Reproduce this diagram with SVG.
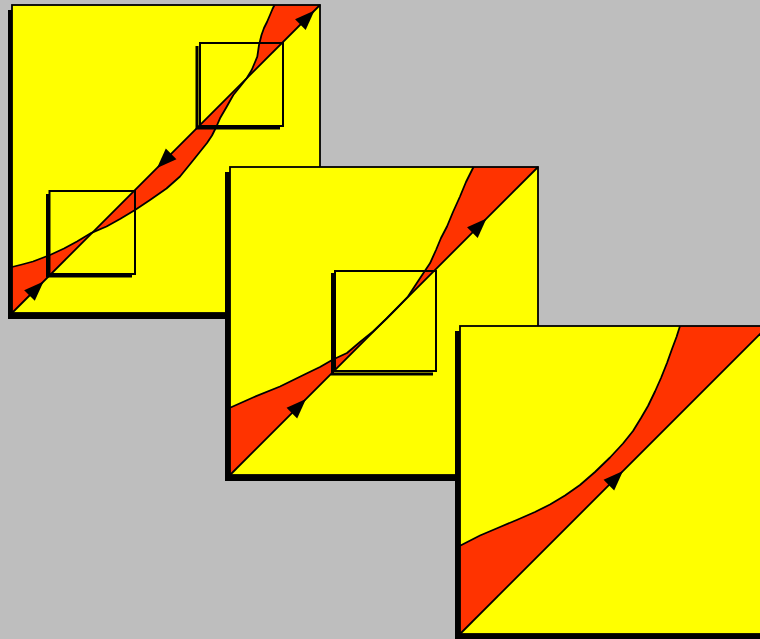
<svg xmlns="http://www.w3.org/2000/svg" width="760" height="639" viewBox="0 0 760 639">
<defs>
<style>
.bg{fill:#bebebe}
.shadow{fill:#000}
.sq{fill:#ffff00}
.frame{fill:none;stroke:#000;stroke-width:1.8}
.band{fill:#ff3300;stroke:none}
.diag{fill:none;stroke:#000;stroke-width:1.8}
.curve{fill:none;stroke:#000;stroke-width:1.8;stroke-linejoin:round}
.box{fill:none;stroke:#000;stroke-width:2}
.boxsh{fill:none;stroke:#000;stroke-width:3}
.arrow{fill:#000}
</style>
<polygon id="ah" points="0,0 -20,-7.5 -20,7.5"/>
</defs>
<rect class="bg" x="0" y="0" width="760" height="639"/>

<g id="panel1">
<rect class="shadow" x="8" y="10" width="308" height="309"/>
<rect class="sq" x="12" y="5" width="308" height="308"/>
<polygon class="band" points="12,267 22,264.5 33,261.5 50,255 64,248.5 77,241.5 91.5,232.8 106.5,226.5 120,219 135,210 150,200 166.5,188.5 180,176.5 193,160.5 207,143 212,135.5 216.7,126 220,118.3 226.7,106.7 233.3,95 240,86.7 246.7,78.3 251.7,70 257.3,56.7 259,45 261.5,35 264,28 267,22 270,15 272.5,9 274.5,5 320,5 12,313"/>
<line class="diag" x1="12" y1="313" x2="320" y2="5"/>
<polyline class="curve" points="12,267 22,264.5 33,261.5 50,255 64,248.5 77,241.5 91.5,232.8 106.5,226.5 120,219 135,210 150,200 166.5,188.5 180,176.5 193,160.5 207,143 212,135.5 216.7,126 220,118.3 226.7,106.7 233.3,95 240,86.7 246.7,78.3 251.7,70 257.3,56.7 259,45 261.5,35 264,28 267,22 270,15 272.5,9 274.5,5"/>
<path class="boxsh" d="M197,46 V128 H280"/>
<rect class="box" x="200" y="43" width="83" height="83"/>
<path class="boxsh" d="M47.5,194 V276 H132"/>
<rect class="box" x="49.5" y="191" width="85.5" height="83"/>
<use href="#ah" class="arrow" transform="translate(43.6,281.4) rotate(-45)"/>
<use href="#ah" class="arrow" transform="translate(157,168) rotate(135)"/>
<use href="#ah" class="arrow" transform="translate(314.5,10.5) rotate(-45)"/>
<rect class="frame" x="12" y="5" width="308" height="308"/>
</g>

<g id="panel2">
<rect class="shadow" x="225" y="172" width="308" height="309"/>
<rect class="sq" x="230" y="167" width="308" height="308"/>
<polygon class="band" points="230,407.7 253,397.5 280,386.5 306.5,373.5 320,367 333,359.5 347,353 360,342 373,331.5 386.7,318.5 398,307 408,296.5 416.7,283.3 423.3,273.3 430,263.3 436,250 441,238 447,226.5 453,212 460,196.5 466,182 473.5,167 538,167 230,475"/>
<line class="diag" x1="230" y1="475" x2="538" y2="167"/>
<polyline class="curve" points="230,407.7 253,397.5 280,386.5 306.5,373.5 320,367 333,359.5 347,353 360,342 373,331.5 386.7,318.5 398,307 408,296.5 416.7,283.3 423.3,273.3 430,263.3 436,250 441,238 447,226.5 453,212 460,196.5 466,182 473.5,167"/>
<path class="boxsh" d="M332.5,273 V374 H433"/>
<rect class="box" x="335" y="271" width="101" height="100"/>
<use href="#ah" class="arrow" transform="translate(306,399) rotate(-45)"/>
<use href="#ah" class="arrow" transform="translate(486.5,218.5) rotate(-45)"/>
<rect class="frame" x="230" y="167" width="308" height="308"/>
</g>

<g id="panel3">
<rect class="shadow" x="455" y="331" width="308" height="309"/>
<rect class="sq" x="460" y="326" width="308" height="308"/>
<polygon class="band" points="460,545.7 480,535.5 500,527 516.7,520 535,512 550,504.5 565,495.5 580,485 595,472 610,457.5 623,443.5 633,431 641,418 648,406 655,391.5 661,378 667,363 672,349 676.5,337 680,326 768,326 460,634"/>
<line class="diag" x1="460" y1="634" x2="768" y2="326"/>
<polyline class="curve" points="460,545.7 480,535.5 500,527 516.7,520 535,512 550,504.5 565,495.5 580,485 595,472 610,457.5 623,443.5 633,431 641,418 648,406 655,391.5 661,378 667,363 672,349 676.5,337 680,326"/>
<use href="#ah" class="arrow" transform="translate(623,471) rotate(-45)"/>
<rect class="frame" x="460" y="326" width="308" height="308"/>
</g>
</svg>
